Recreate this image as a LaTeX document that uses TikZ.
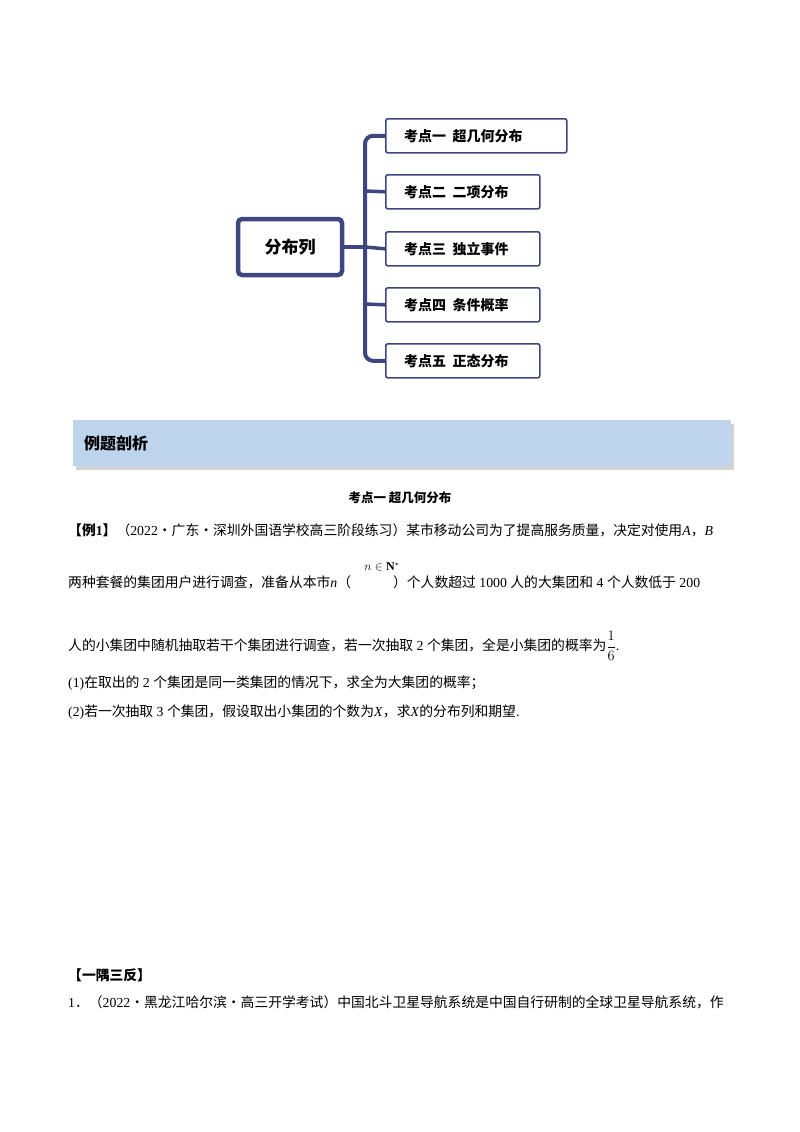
\documentclass[tikz,border=0pt]{standalone}
\usepackage{fontspec}
\setmainfont{Liberation Serif}
\newfontfamily\cjk{Noto Sans CJK SC}
\definecolor{navy}{HTML}{3E4682}
\definecolor{banner}{HTML}{BDD5EC}
\begin{document}
\begin{tikzpicture}[x=1pt,y=-1pt,
  child/.style={draw=navy,line width=1.6pt,rounded corners=2pt,anchor=north west,inner sep=0pt},
  conn/.style={draw=navy,line width=4pt,rounded corners=8pt},
  txt/.style={anchor=west,inner sep=0pt,font=\fontsize{13.8}{15}\selectfont}]
\useasboundingbox (0,0) rectangle (800,1132);
\node[draw=navy,line width=4.5pt,rounded corners=4pt,minimum width=104pt,minimum height=56pt,inner sep=0pt,font=\cjk\bfseries\fontsize{17}{19}\selectfont] (root) at (290,247) {分布列};
\node[child,minimum width=181pt,minimum height=34pt] (c1) at (385,118) {};
\node[child,minimum width=154pt,minimum height=34pt] (c2) at (385,174) {};
\node[child,minimum width=154pt,minimum height=34pt] (c3) at (385,231) {};
\node[child,minimum width=154pt,minimum height=34pt] (c4) at (385,287) {};
\node[child,minimum width=154pt,minimum height=34pt] (c5) at (385,343) {};
\foreach \i/\t in {1/考点一\ \ 超几何分布,2/考点二\ \ 二项分布,3/考点三\ \ 独立事件,4/考点四\ \ 条件概率,5/考点五\ \ 正态分布}
  \node[anchor=west,font=\cjk\bfseries\fontsize{14}{16}\selectfont,inner sep=0pt] (t\i) at ([xshift=19pt]c\i.west) {\t};
\coordinate (tr) at (365,247);
\draw[conn] (c1.west) -| (tr) |- (c5.west);
\draw[conn] (root.east) -- (tr);
\draw[navy,line width=3.5pt] (tr) -- (c3.west);
\draw[navy,line width=3.5pt] (365,191) -- (c2.west);
\draw[navy,line width=3.5pt] (365,304) -- (c4.west);
% banner
\fill[gray!35] (76,424) rectangle (734,470);
\node[fill=banner,minimum width=658pt,minimum height=46pt,anchor=north west,inner sep=0pt] (ban) at (73,420) {};
\node[anchor=west,inner sep=0pt,font=\cjk\bfseries\fontsize{16}{18}\selectfont] (bt) at (84,443) {例题剖析};
\node[inner sep=0pt,font=\cjk\bfseries\fontsize{12.5}{14}\selectfont] (ti) at (400,498) {考点一\ 超几何分布};
\node[txt] (l1) at (68,530) {{\cjk\bfseries 【例}\textbf{1}{\cjk\bfseries 】}{\cjk （}2022{\cjk ·广东·深圳外国语学校高三阶段练习）某市移动公司为了提高服务质量，决定对使用}\textit{A}{\cjk ，}\textit{B}};
\node[txt] (l2) at (68,582) {{\cjk 两种套餐的集团用户进行调查，准备从本市}\textit{n}{\cjk （}\hspace{42pt}{\cjk ）个人数超过} 1000 {\cjk 人的大集团和} 4 {\cjk 个人数低于} 200};
\node[inner sep=0pt,font=\fontsize{12}{13}\selectfont] (nn) at (382,567) {$n\in\mathbf{N}^{*}$};
\node[txt] (l3) at (68,646) {{\cjk 人的小集团中随机抽取若干个集团进行调查，若一次抽取} 2 {\cjk 个集团，全是小集团的概率为}$\displaystyle\frac{1}{6}$.};
\node[txt] (l4) at (68,683) {(1){\cjk 在取出的} 2 {\cjk 个集团是同一类集团的情况下，求全为大集团的概率；}};
\node[txt] (l5) at (68,712) {(2){\cjk 若一次抽取} 3 {\cjk 个集团，假设取出小集团的个数为}\textit{X}{\cjk ，求}\textit{X}{\cjk 的分布列和期望}.};
\node[txt,font=\cjk\bfseries\fontsize{13.8}{15}\selectfont] (yy) at (68,975) {【一隅三反】};
\node[txt] (l6) at (68,1002) {1{\cjk ．（}2022{\cjk ·黑龙江哈尔滨·高三开学考试）中国北斗卫星导航系统是中国自行研制的全球卫星导航系统，作}};
\end{tikzpicture}
\end{document}
